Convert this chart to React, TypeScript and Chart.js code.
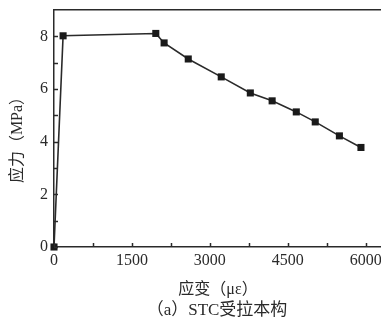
import React, { useEffect, useRef } from "react";
import { Chart, registerables } from "chart.js";

Chart.register(...registerables);

const strain = [0, 175, 1960, 2120, 2585, 3220, 3780, 4200, 4665, 5030, 5495, 5910];
const stress = [0, 8.02, 8.11, 7.75, 7.14, 6.46, 5.85, 5.55, 5.13, 4.75, 4.22, 3.78];
const xLabels = [0, 1500, 3000, 4500, 6000];
const xMinor = [750, 2250, 3750, 5250];
const yLabels = [0, 2, 4, 6, 8];
const yMinor = [1, 3, 5, 7];
const xTitle = "应变（με）";
const yTitle = "应力（MPa）";
const caption = "（a）STC受拉本构";

const SERIF = '"Liberation Serif", "Noto Sans CJK SC", serif';
const INK = "#2a2a2a";

const decor = {
  id: "decor",
  afterDraw(chart: any) {
    const ctx = chart.ctx;
    const area = chart.chartArea;
    const xs = chart.scales.x;
    const ys = chart.scales.y;
    ctx.save();
    ctx.strokeStyle = INK;
    ctx.lineWidth = 1.5;
    [...xLabels, ...xMinor].forEach((v) => {
      const px = Math.round(xs.getPixelForValue(v)) + 0.5;
      ctx.beginPath();
      ctx.moveTo(px, area.bottom);
      ctx.lineTo(px, area.bottom - 4);
      ctx.stroke();
    });
    [...yLabels, ...yMinor].forEach((v) => {
      const py = Math.round(ys.getPixelForValue(v)) + 0.5;
      ctx.beginPath();
      ctx.moveTo(area.left, py);
      ctx.lineTo(area.left + 4, py);
      ctx.stroke();
    });
    ctx.fillStyle = INK;
    ctx.textAlign = "center";
    ctx.textBaseline = "alphabetic";
    ctx.font = "16px " + SERIF;
    ctx.fillText(xTitle, 218, 294);
    ctx.font = "17px " + SERIF;
    ctx.fillText(caption, 217, 315);
    ctx.textBaseline = "middle";
    ctx.translate(18, 136);
    ctx.rotate(-Math.PI / 2);
    ctx.font = "16px " + SERIF;
    ctx.fillText(yTitle, 0, 0);
    ctx.restore();
  },
};

export default function App() {
  const ref = useRef<HTMLCanvasElement>(null);
  useEffect(() => {
    if (!ref.current) return;
    const chart = new Chart(ref.current, {
      type: "line",
      data: {
        datasets: [
          {
            data: strain.map((x, i) => ({ x, y: stress[i] })),
            borderColor: INK,
            backgroundColor: "#1a1a1a",
            borderWidth: 1.6,
            pointStyle: "rect",
            pointRadius: 5,
            pointBorderWidth: 0,
            tension: 0,
            clip: false,
          },
        ],
      },
      options: {
        animation: false,
        responsive: false,
        maintainAspectRatio: false,
        layout: { padding: 0, autoPadding: false },
        plugins: { legend: { display: false }, tooltip: { enabled: false } },
        scales: {
          x: {
            type: "linear",
            min: 0,
            max: 6450,
            afterBuildTicks: (s: any) => {
              s.ticks = xLabels.map((v) => ({ value: v }));
            },
            ticks: {
              autoSkip: false,
              maxRotation: 0,
              padding: 4,
              color: INK,
              font: { family: SERIF, size: 16 },
              callback: (v: any) => String(v),
            },
            grid: { display: false, drawTicks: false },
            border: { display: true, color: INK, width: 1.5 },
            afterFit: (s: any) => {
              s.height = 79;
              s.paddingLeft = 0;
              s.paddingRight = 0;
            },
          },
          xTop: {
            type: "linear",
            position: "top",
            min: 0,
            max: 6450,
            ticks: { display: false },
            grid: { display: false, drawTicks: false },
            border: { display: true, color: INK, width: 1.5 },
            afterFit: (s: any) => {
              s.height = 10;
              s.paddingLeft = 0;
              s.paddingRight = 0;
            },
          },
          y: {
            type: "linear",
            min: 0,
            max: 9,
            afterBuildTicks: (s: any) => {
              s.ticks = yLabels.map((v) => ({ value: v }));
            },
            ticks: {
              padding: 6,
              color: INK,
              font: { family: SERIF, size: 16 },
              callback: (v: any) => String(v),
            },
            grid: { display: false, drawTicks: false },
            border: { display: true, color: INK, width: 1.5 },
            afterFit: (s: any) => {
              s.width = 54;
              s.paddingTop = 0;
              s.paddingBottom = 0;
            },
          },
        },
      },
      plugins: [decor],
    } as any);
    return () => chart.destroy();
  }, []);
  return (
    <div style={{ margin: -8, width: 389, height: 326, overflow: "hidden" }}>
      <canvas ref={ref} width={389} height={326} style={{ display: "block" }} />
    </div>
  );
}
